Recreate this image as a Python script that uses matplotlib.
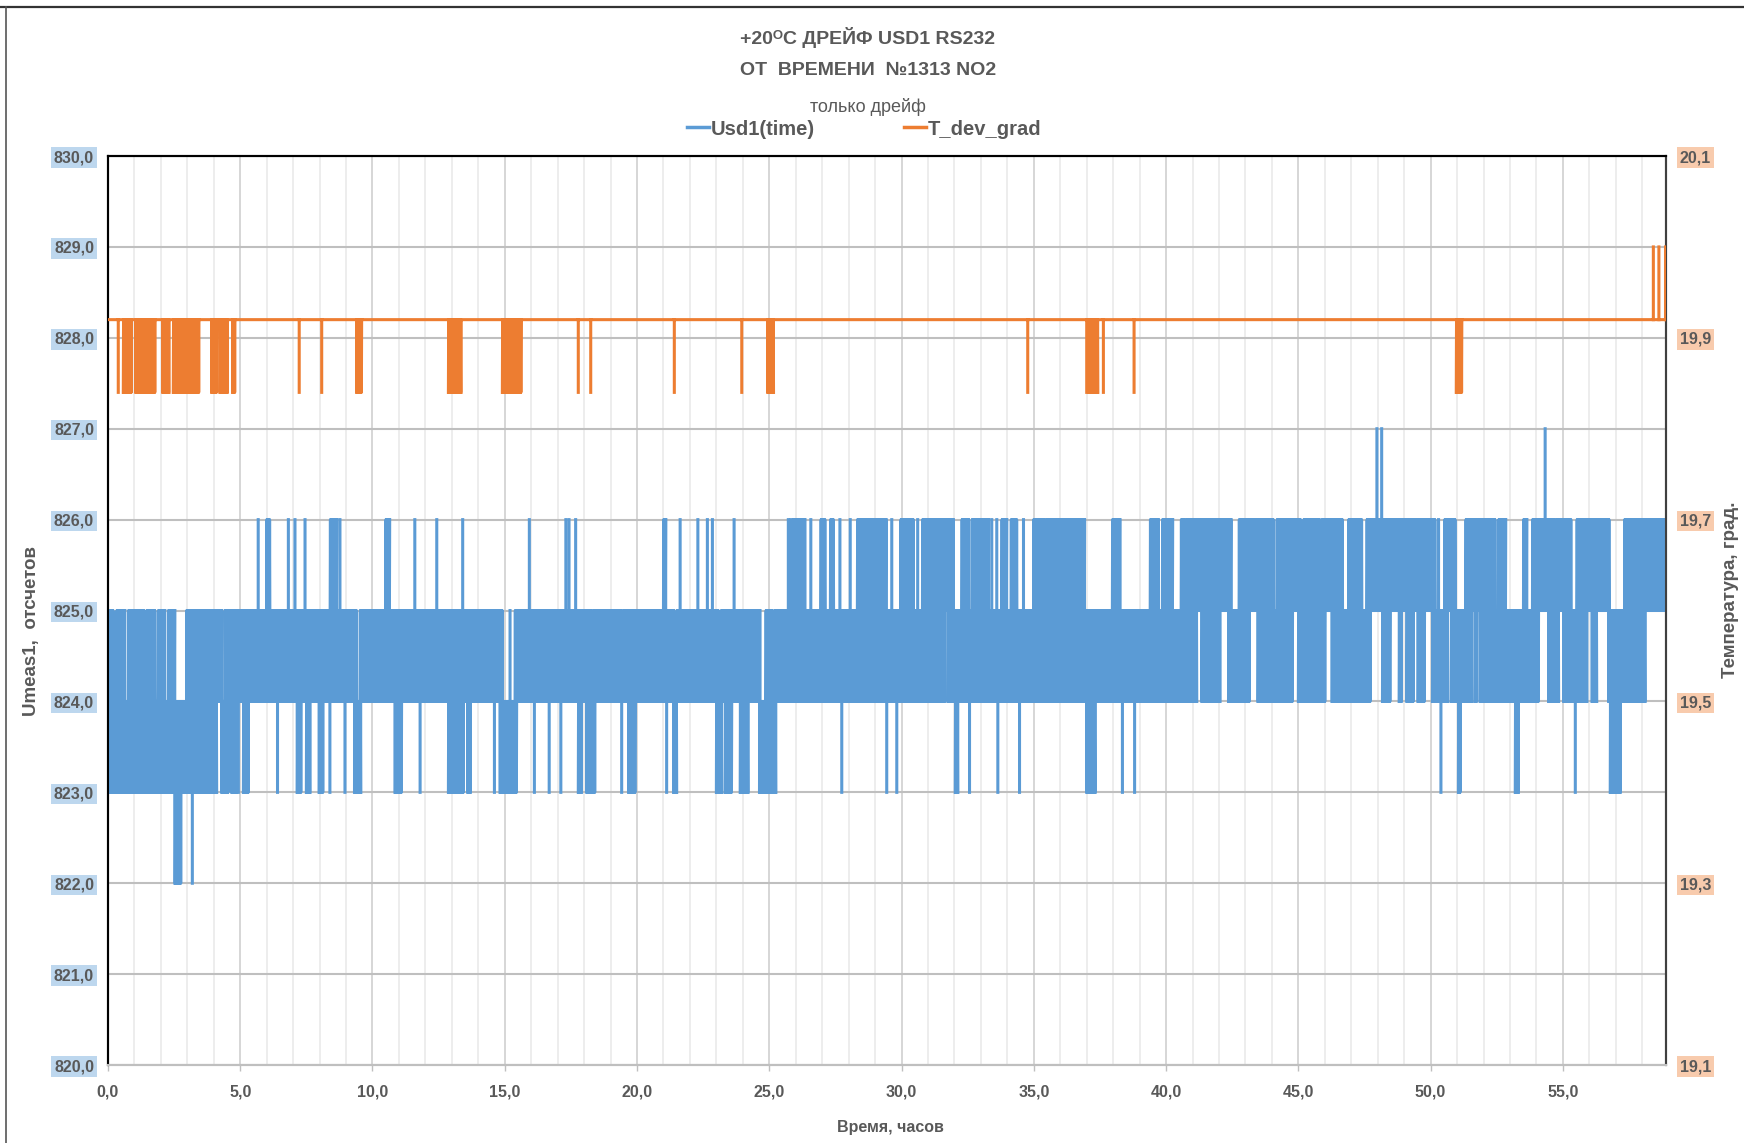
import numpy as np
import matplotlib
matplotlib.use('Agg')
import matplotlib.pyplot as plt
from matplotlib.lines import Line2D
from matplotlib.ticker import MultipleLocator, FuncFormatter

# record span, hours
time_span = [0.0, 58.9]

# Usd1(time): intervals (hours) where the reading flips between two neighbouring counts
# (t, t) means a single short excursion
usd_824_825 = [(0.0, 0.2), (0.33, 0.64), (0.77, 1.15), (1.21, 1.34), (1.46, 1.78),
               (1.9, 2.15), (2.28, 2.53), (2.97, 3.29), (3.35, 3.98), (4.05, 4.3),
               (4.42, 9.4), (9.53, 14.91), (15.2, 15.2), (15.39, 18.26), (18.35, 19.4),
               (19.49, 21.38), (21.5, 23.08), (23.18, 23.43), (23.48, 24.65),
               (24.87, 25.1), (25.2, 31.04), (31.12, 31.46), (31.5, 31.62),
               (31.75, 33.22), (33.26, 33.92), (33.95, 34.27), (34.32, 35.15),
               (35.18, 35.65), (35.7, 39.4), (39.46, 41.16), (41.35, 41.6),
               (41.67, 41.86), (41.92, 42.04), (42.36, 43.15), (43.47, 43.87),
               (43.97, 44.78), (45.0, 46.01), (46.27, 47.09), (47.15, 47.72),
               (48.18, 48.47), (48.81, 48.89), (49.1, 49.35), (49.52, 49.77),
               (50.07, 50.65), (50.78, 51.56), (51.68, 51.75), (51.87, 54.08),
               (54.46, 54.84), (55.03, 55.91), (56.1, 56.16), (56.22, 56.28),
               (56.73, 57.61), (57.67, 58.11)]
usd_825_826 = [(5.68, 5.68), (6.0, 6.12), (6.82, 6.82), (7.07, 7.07), (7.45, 7.45),
               (8.4, 8.65), (8.77, 8.77), (10.5, 10.65), (11.6, 11.6), (12.43, 12.43),
               (13.41, 13.41), (15.93, 15.93), (17.31, 17.31), (17.43, 17.43),
               (17.68, 17.68), (21.0, 21.09), (21.63, 21.63), (22.3, 22.3),
               (22.66, 22.66), (22.85, 22.85), (23.67, 23.67), (25.72, 25.72),
               (25.82, 25.82), (25.9, 26.0), (26.04, 26.35), (26.57, 26.57),
               (26.95, 27.11), (27.31, 27.43), (27.67, 27.67), (28.06, 28.06),
               (28.33, 28.98), (29.03, 29.42), (29.63, 29.63), (29.97, 30.45),
               (30.61, 30.61), (30.79, 31.96), (32.28, 32.53), (32.66, 33.29),
               (33.41, 33.41), (33.6, 33.6), (33.79, 33.98), (34.14, 34.36),
               (34.61, 34.61), (34.99, 35.4), (35.49, 36.56), (36.63, 36.92),
               (37.97, 38.26), (39.4, 39.71), (39.86, 40.25), (40.57, 40.66),
               (40.75, 42.46), (42.76, 44.06), (44.19, 45.09), (45.2, 45.79),
               (45.89, 46.67), (46.9, 47.4), (47.59, 50.17), (50.3, 50.3),
               (50.53, 50.93), (51.33, 51.96), (52.04, 52.44), (52.57, 52.84),
               (53.51, 53.64), (53.85, 54.68), (54.77, 55.31), (55.53, 56.75),
               (57.33, 58.9)]
usd_823_824 = [(0.01, 2.34), (2.41, 4.11), (4.3, 4.55), (4.68, 4.86), (4.93, 4.93),
               (5.12, 5.31), (6.41, 6.41), (7.15, 7.3), (7.5, 7.64), (7.98, 8.13),
               (8.39, 8.39), (8.96, 8.96), (9.32, 9.56), (10.85, 11.1), (11.8, 11.8),
               (12.87, 13.44), (13.6, 13.7), (14.61, 14.61), (14.82, 15.45),
               (16.12, 16.12), (16.68, 16.68), (17.12, 17.12), (17.78, 17.9),
               (18.1, 18.41), (19.42, 19.42), (19.68, 19.93), (21.12, 21.12),
               (21.38, 21.5), (23.0, 23.2), (23.33, 23.58), (23.9, 24.2),
               (24.63, 25.25), (27.74, 27.74), (29.44, 29.44), (29.82, 29.82),
               (32.03, 32.13), (32.57, 32.57), (33.64, 33.64), (34.46, 34.46),
               (37.0, 37.32), (38.35, 38.35), (38.81, 38.81), (50.39, 50.39),
               (51.05, 51.12), (53.2, 53.32), (55.47, 55.47), (56.79, 57.17)]
usd_822_823 = [(2.53, 2.76), (3.19, 3.19)]
usd_826_827 = [(47.97, 47.97), (48.15, 48.15), (54.33, 54.33)]

# T_dev_grad: base level plus flips down / up
t_dev_levels = [19.84, 19.92, 20.0]
t_dev_dips = [(0.39, 0.39), (0.58, 0.89), (1.05, 1.78), (2.07, 2.31), (2.47, 3.44),
              (3.92, 4.11), (4.23, 4.51), (4.71, 4.8), (7.23, 7.23), (8.08, 8.08),
              (9.4, 9.59), (12.87, 13.15), (13.25, 13.35), (14.91, 15.62),
              (17.78, 17.78), (18.25, 18.25), (21.41, 21.41), (23.96, 23.96),
              (24.94, 25.16), (34.77, 34.77), (37.0, 37.0), (37.08, 37.42),
              (37.63, 37.63), (38.79, 38.79), (50.97, 51.18)]
t_dev_ups = [(58.42, 58.42), (58.63, 58.63), (58.88, 58.88)]

BLUE = '#5b9bd5'
ORANGE = '#ed7d31'
GRAY = '#595959'
NARROW = ['Liberation Sans Narrow', 'Liberation Sans', 'DejaVu Sans']
WIDE = ['Liberation Sans', 'DejaVu Sans']


def flip_path(intervals, lo, hi, step=0.01):
    # one polyline per interval, values flipping lo/hi sample by sample
    xs, ys = [], []
    for t0, t1 in intervals:
        if t1 - t0 < 2 * step:
            x = np.array([t0, t0])
        else:
            x = np.arange(t0, t1 + step / 2, step)
        y = np.where(np.arange(len(x)) % 2 == 0, lo, hi)
        xs += list(x) + [np.nan]
        ys += list(y) + [np.nan]
    return xs, ys


def comma(v, pos):
    return f'{v:.1f}'.replace('.', ',')


fig = plt.figure(figsize=(17.44, 11.43), dpi=100)
ax = fig.add_axes([0.0619, 0.0682, 0.8934, 0.7953])
ax2 = ax.twinx()

# blue series
bx, by = [], []
for band, lo, hi in [(usd_824_825, 824, 825), (usd_825_826, 825, 826),
                     (usd_823_824, 823, 824), (usd_822_823, 822, 823),
                     (usd_826_827, 826, 827)]:
    x, y = flip_path(band, lo, hi)
    bx += x
    by += y
ax.plot(bx, by, color=BLUE, lw=2.2, solid_joinstyle='round', zorder=3)

# orange series
lo_t, base_t, hi_t = t_dev_levels
ox = list(time_span) + [np.nan]
oy = [base_t, base_t, np.nan]
x, y = flip_path(t_dev_dips, lo_t, base_t)
ox += x
oy += y
x, y = flip_path(t_dev_ups, base_t, hi_t)
ox += x
oy += y
ax2.plot(ox, oy, color=ORANGE, lw=2.2, zorder=3)

ax.set_xlim(time_span)
ax.set_ylim(820, 830)
ax2.set_ylim(19.1, 20.1)
ax.set_yticks(np.arange(820, 831, 1))
ax2.set_yticks(np.arange(19.1, 20.11, 0.2))
ax.xaxis.set_major_locator(MultipleLocator(5))
ax.xaxis.set_minor_locator(MultipleLocator(1))
ax.xaxis.set_major_formatter(FuncFormatter(comma))
ax.yaxis.set_major_formatter(FuncFormatter(comma))
ax2.yaxis.set_major_formatter(FuncFormatter(comma))

ax.grid(axis='y', color='#bfbfbf', lw=1.5, zorder=0)
ax.grid(axis='x', which='major', color='#d6d6d6', lw=1.4, zorder=0)
ax.grid(axis='x', which='minor', color='#ededed', lw=1.4, zorder=0)
ax.set_axisbelow(True)

for a in (ax, ax2):
    a.spines['left'].set_color('black')
    a.spines['top'].set_color('black')
    a.spines['right'].set_color('#404040')
    a.spines['bottom'].set_color('#bfbfbf')
    for s in a.spines.values():
        s.set_linewidth(1.5)

ax.tick_params(axis='y', length=0, pad=10, labelsize=11.5, labelcolor=GRAY)
ax2.tick_params(axis='y', length=0, pad=10, labelsize=11.5, labelcolor=GRAY)
ax.tick_params(axis='x', which='major', length=4, width=1, color='#bfbfbf',
               pad=10, labelsize=11.5, labelcolor=GRAY)
ax.tick_params(axis='x', which='minor', length=0)

for lbl in ax.get_yticklabels():
    lbl.set_family(NARROW)
    lbl.set_weight('bold')
    lbl.set_bbox(dict(facecolor='#bdd7ee', edgecolor='none', pad=2))
for lbl in ax2.get_yticklabels():
    lbl.set_family(NARROW)
    lbl.set_weight('bold')
    lbl.set_bbox(dict(facecolor='#f8cbad', edgecolor='none', pad=2))
for lbl in ax.get_xticklabels():
    lbl.set_family(NARROW)
    lbl.set_weight('bold')

ax.set_xlabel('Время, часов', family=NARROW, weight='bold', size=11.5, color=GRAY)
ax.xaxis.set_label_coords(0.502, -0.0605)
ax.set_ylabel('Umeas1,  отсчетов', family=WIDE, weight='bold', size=13.5, color=GRAY)
ax.yaxis.set_label_coords(-0.0436, 0.478)
ax2.set_ylabel('Температура, град.', family=WIDE, weight='bold', size=13.5,
               color=GRAY, rotation=90)
ax2.yaxis.set_label_coords(1.0358, 0.5226)

fig.text(0.4977, 0.9676, '+20ᴼC ДРЕЙФ USD1 RS232', ha='center', va='center',
         family=NARROW, weight='bold', size=14, color=GRAY)
fig.text(0.4977, 0.9379, 'ОТ  ВРЕМЕНИ  №1313 NO2', ha='center', va='center',
         family=NARROW, weight='bold', size=14, color=GRAY)
fig.text(0.4977, 0.9064, 'только дрейф', ha='center', va='center',
         family=NARROW, size=13, color=GRAY)

handles = [Line2D([], [], color=BLUE, lw=2.5), Line2D([], [], color=ORANGE, lw=2.5)]
fig.legend(handles, ['Usd1(time)', 'T_dev_grad'], loc='center',
           bbox_to_anchor=(0.4956, 0.8871), ncol=2, frameon=False,
           handlelength=1.1, handletextpad=0.1, columnspacing=4.4,
           labelcolor=GRAY, prop=dict(family=NARROW, weight='bold', size=14.5))

# outer frame of the sheet
fig.add_artist(Line2D([0, 1], [0.9939, 0.9939], transform=fig.transFigure,
                      color='#333333', lw=1.6))
fig.add_artist(Line2D([0.0034, 0.0034], [0, 0.9939], transform=fig.transFigure,
                      color='#555555', lw=1.2))

fig.savefig('out.png', dpi=100)
